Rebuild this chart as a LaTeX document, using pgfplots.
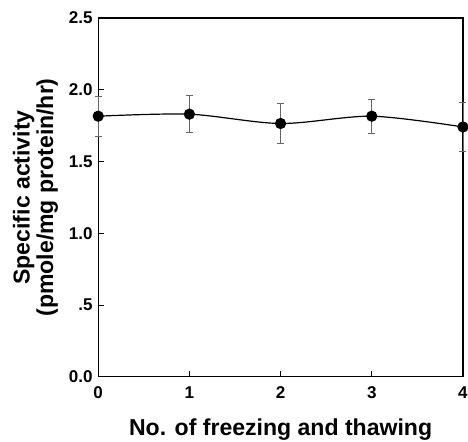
\documentclass[border=0pt]{standalone}
\usepackage{fontspec}
\setmainfont{Liberation Sans}
\usepackage{pgfplots}
\pgfplotsset{compat=1.18}

\begin{document}
\begin{tikzpicture}
\begin{axis}[
    scale only axis,
    width=364pt, height=358pt,
    xmin=0, xmax=4,
    ymin=0, ymax=2.5,
    xtick={0,1,2,3,4},
    ytick={0,0.5,1,1.5,2,2.5},
    yticklabels={0.0,.5,1.0,1.5,2.0,2.5},
    tick pos=left,
    tick align=inside,
    major tick length=6pt,
    axis line style={line width=1.3pt},
    every tick/.style={line width=1pt, black},
    every tick label/.append style={font=\fontsize{17}{18}\selectfont\bfseries},
    /pgf/number format/assume math mode=true,
    xticklabel style={yshift=-6pt},
    yticklabel style={xshift=-2pt},
    xlabel={No. of freezing and thawing},
    ylabel={Specific activity\\(pmole/mg protein/hr)},
    label style={font=\fontsize{23}{23.5}\selectfont\bfseries},
    xlabel style={at={(axis description cs:0.5,-0.148)}, anchor=center},
    ylabel style={at={(axis description cs:-0.172,0.5)}, anchor=center, align=center},
    clip=false,
]
\addplot[black, line width=1.2pt, smooth,
    mark=*, mark size=5pt, mark options={solid, fill=black},
    error bars/.cd, y dir=both, y explicit,
    error bar style={line width=0.7pt, black!60},
    error mark options={rotate=90, mark size=3.5pt, line width=0.7pt, black!60},
] coordinates {
    (0,1.816) +- (0,0.14)
    (1,1.83)  +- (0,0.13)
    (2,1.765) +- (0,0.14)
    (3,1.816) +- (0,0.12)
    (4,1.741) +- (0,0.168)
};
\end{axis}
\pgfresetboundingbox
\useasboundingbox (-98pt,-65pt) rectangle (369pt,376pt);
\end{tikzpicture}
\end{document}
